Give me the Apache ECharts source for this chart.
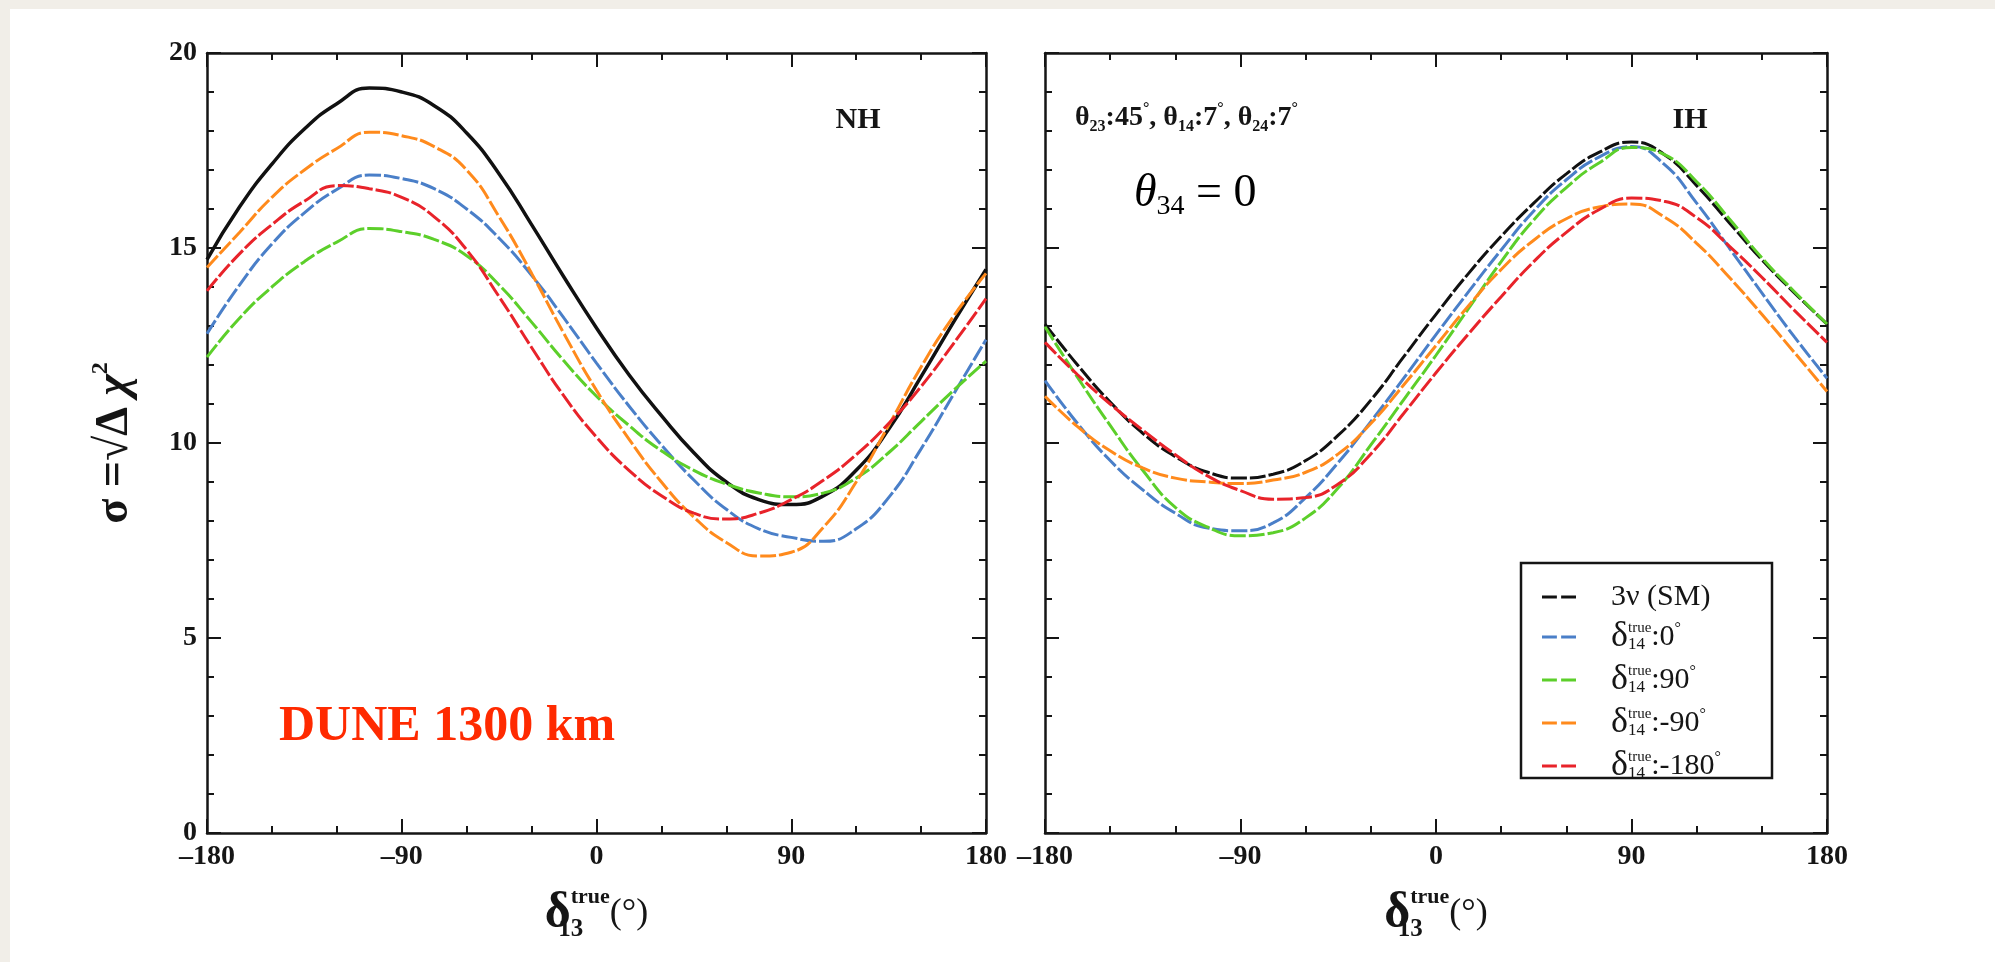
<!DOCTYPE html>
<html>
<head>
<meta charset="utf-8">
<script src="https://cdn.jsdelivr.net/npm/echarts@6/dist/echarts.min.js"></script>
<style>
html, body { margin: 0; padding: 0; background: #f1eee8; }
#main { width: 1995px; height: 962px; }
</style>
</head>
<body>
<div id="main"></div>
<script>
// delta_13 (true) in degrees, same grid for every curve
var deltaCP = [-180, -165, -150, -135, -120, -105, -90, -75, -60, -45, -30, -15, 0,
               15, 30, 45, 60, 75, 90, 105, 120, 135, 150, 165, 180];
var xTicks = [-180, -90, 0, 90, 180];
var yTicks = [0, 5, 10, 15, 20];

// NH panel
var nhSM    = [14.7, 16.05, 17.15, 18.05, 18.7, 19.1, 19.0, 18.65, 17.95, 16.9, 15.6, 14.25, 12.95, 11.75, 10.7, 9.75, 9.0, 8.55, 8.42, 8.65, 9.3, 10.35, 11.7, 13.1, 14.45];
var nhD0    = [12.8, 14.05, 15.1, 15.9, 16.5, 16.87, 16.78, 16.52, 16.0, 15.25, 14.3, 13.2, 12.05, 10.95, 9.95, 9.05, 8.3, 7.8, 7.58, 7.48, 7.8, 8.6, 9.85, 11.25, 12.65];
var nhD90   = [12.2, 13.2, 14.0, 14.65, 15.15, 15.5, 15.42, 15.22, 14.8, 14.05, 13.1, 12.1, 11.2, 10.45, 9.8, 9.3, 8.95, 8.72, 8.62, 8.72, 9.1, 9.75, 10.55, 11.35, 12.1];
var nhDm90  = [14.5, 15.4, 16.3, 17.0, 17.55, 17.97, 17.88, 17.6, 17.0, 15.8, 14.35, 12.8, 11.35, 10.1, 9.0, 8.1, 7.45, 7.1, 7.2, 7.85, 9.0, 10.45, 11.95, 13.25, 14.35];
var nhDm180 = [13.9, 14.85, 15.6, 16.2, 16.6, 16.52, 16.3, 15.8, 14.95, 13.75, 12.45, 11.2, 10.15, 9.3, 8.65, 8.2, 8.05, 8.2, 8.55, 9.05, 9.7, 10.5, 11.45, 12.55, 13.7];

// IH panel
var ihSM    = [13.05, 12.0, 11.05, 10.25, 9.65, 9.25, 9.1, 9.2, 9.55, 10.2, 11.1, 12.2, 13.3, 14.35, 15.3, 16.15, 16.9, 17.45, 17.72, 17.4, 16.6, 15.65, 14.7, 13.85, 13.05];
var ihD0    = [11.6, 10.5, 9.55, 8.8, 8.2, 7.82, 7.75, 7.95, 8.6, 9.5, 10.55, 11.65, 12.78, 13.88, 14.95, 15.95, 16.75, 17.33, 17.6, 17.15, 16.15, 15.0, 13.85, 12.72, 11.66];
var ihD90   = [12.98, 11.68, 10.45, 9.3, 8.35, 7.84, 7.62, 7.7, 8.08, 8.85, 9.95, 11.1, 12.25, 13.45, 14.65, 15.72, 16.55, 17.18, 17.58, 17.4, 16.7, 15.75, 14.75, 13.88, 13.05];
var ihDm90  = [11.2, 10.42, 9.8, 9.36, 9.1, 9.0, 8.96, 9.05, 9.25, 9.72, 10.5, 11.48, 12.5, 13.52, 14.45, 15.2, 15.75, 16.05, 16.13, 15.8, 15.12, 14.25, 13.3, 12.32, 11.32];
var ihDm180 = [12.58, 11.75, 11.0, 10.33, 9.7, 9.15, 8.78, 8.56, 8.6, 8.95, 9.72, 10.75, 11.8, 12.8, 13.75, 14.65, 15.4, 15.98, 16.28, 16.2, 15.78, 15.05, 14.25, 13.4, 12.58];

var names = ['sm', 'd0', 'd90', 'dm90', 'dm180'];
var colors = ['#111111', '#4a7fc8', '#5ccf2a', '#ff8a1c', '#e8232a'];
var legendText = {
    sm: '{n|3ν (SM)}',
    d0: '{d|δ}{sb|14}{sp|true}{n|:0}{g|°}',
    d90: '{d|δ}{sb|14}{sp|true}{n|:90}{g|°}',
    dm90: '{d|δ}{sb|14}{sp|true}{n|:-90}{g|°}',
    dm180: '{d|δ}{sb|14}{sp|true}{n|:-180}{g|°}'
};

var serif = '"Liberation Serif", "DejaVu Serif", serif';
var ink = '#151515';

function pairs(ys) {
    return deltaCP.map(function (x, i) { return [x, ys[i]]; });
}
function tickFmt(v) {
    return v < 0 ? '\u2013' + (-v) : String(v);
}

var myChart = echarts.init(document.getElementById('main'));

function xAx(grid, pos, labels) {
    return {
        type: 'value', gridIndex: grid, position: pos,
        min: xTicks[0], max: xTicks[xTicks.length - 1], interval: xTicks[1] - xTicks[0],
        axisLine: { onZero: false, lineStyle: { color: ink, width: 2.5 } },
        axisTick: { inside: true, length: 14, lineStyle: { color: ink, width: 2 } },
        minorTick: { show: true, splitNumber: 3, length: 7, lineStyle: { color: ink, width: 2 } },
        splitLine: { show: false },
        axisLabel: {
            show: labels, formatter: tickFmt, margin: 10,
            color: ink, fontFamily: serif, fontWeight: 'bold', fontSize: 28
        },
        name: labels ? '{d|δ}{sb|13}{sp|true}{p|(°)}' : '',
        nameLocation: 'middle', nameGap: 53,
        nameTextStyle: {
            rich: {
                d: { fontFamily: serif, fontWeight: 'bold', fontSize: 50, color: ink, lineHeight: 56 },
                sb: { fontFamily: serif, fontWeight: 'bold', fontSize: 25, color: ink, verticalAlign: 'bottom', width: 0, lineHeight: 26 },
                sp: { fontFamily: serif, fontWeight: 'bold', fontSize: 22, color: ink, verticalAlign: 'top', lineHeight: 24 },
                p: { fontFamily: serif, fontSize: 36, color: ink, lineHeight: 56 }
            }
        }
    };
}
function yAx(grid, pos, labels, title) {
    return {
        type: 'value', gridIndex: grid, position: pos,
        min: yTicks[0], max: yTicks[yTicks.length - 1], interval: yTicks[1] - yTicks[0],
        axisLine: { onZero: false, lineStyle: { color: ink, width: 2.5 } },
        axisTick: { inside: true, length: 14, lineStyle: { color: ink, width: 2 } },
        minorTick: { show: true, splitNumber: 5, length: 7, lineStyle: { color: ink, width: 2 } },
        splitLine: { show: false },
        axisLabel: {
            show: labels, margin: 10,
            color: ink, fontFamily: serif, fontWeight: 'bold', fontSize: 28
        },
        name: title ? '{a|σ =√Δ }{c|χ}{e|2}' : '',
        nameLocation: 'middle', nameRotate: 90, nameGap: 66,
        nameTextStyle: {
            rich: {
                a: { fontFamily: serif, fontWeight: 'bold', fontSize: 46, color: ink, lineHeight: 52 },
                c: { fontFamily: serif, fontWeight: 'bold', fontStyle: 'italic', fontSize: 46, color: ink, lineHeight: 52 },
                e: { fontFamily: serif, fontWeight: 'bold', fontSize: 24, color: ink, verticalAlign: 'top', lineHeight: 24 }
            }
        }
    };
}

var nhData = [nhSM, nhD0, nhD90, nhDm90, nhDm180];
var ihData = [ihSM, ihD0, ihD90, ihDm90, ihDm180];
var series = [];
ihData.forEach(function (ys, i) {
    series.push({
        name: names[i], type: 'line', xAxisIndex: 2, yAxisIndex: 2,
        data: pairs(ys), smooth: 0.5, symbol: 'none',
        lineStyle: { color: colors[i], width: 3, type: [16, 3] },
        itemStyle: { color: colors[i] }
    });
});
nhData.forEach(function (ys, i) {
    series.push({
        name: names[i], type: 'line', xAxisIndex: 0, yAxisIndex: 0,
        data: pairs(ys), smooth: 0.5, symbol: 'none',
        lineStyle: { color: colors[i], width: i === 0 ? 3.5 : 3, type: i === 0 ? 'solid' : [16, 3] },
        itemStyle: { color: colors[i] }
    });
});

var option = {
    backgroundColor: '#f1eee8',
    animation: false,
    grid: [
        { left: 207, top: 53, width: 779, height: 780 },
        { left: 1045, top: 53, width: 782, height: 780 }
    ],
    xAxis: [xAx(0, 'bottom', true), xAx(0, 'top', false), xAx(1, 'bottom', true), xAx(1, 'top', false)],
    yAxis: [yAx(0, 'left', true, true), yAx(0, 'right', false, false), yAx(1, 'left', false, false), yAx(1, 'right', false, false)],
    legend: {
        orient: 'vertical', left: 1537, top: 577,
        itemWidth: 34, itemHeight: 14, itemGap: 7,
        icon: 'path://M0,0H14V3H0Z M18,0H32V3H18Z',
        data: names,
        formatter: function (name) { return legendText[name]; },
        textStyle: {
            padding: [0, 0, 0, 30],
            rich: {
                n: { fontFamily: serif, fontSize: 30, color: ink, lineHeight: 32 },
                d: { fontFamily: serif, fontSize: 36, color: ink, lineHeight: 32 },
                sb: { fontFamily: serif, fontSize: 17, color: ink, verticalAlign: 'bottom', width: 0, lineHeight: 17 },
                sp: { fontFamily: serif, fontSize: 15, color: ink, verticalAlign: 'top', lineHeight: 15 },
                g: { fontFamily: serif, fontSize: 16, color: ink, verticalAlign: 'top', lineHeight: 16 }
            }
        }
    },
    graphic: [
        { type: 'rect', z: -1, shape: { x: 10, y: 9, width: 1985, height: 953 }, style: { fill: '#ffffff' } },
        { type: 'rect', z: 3, shape: { x: 1521, y: 563, width: 251, height: 215 }, style: { fill: '#ffffff', stroke: ink, lineWidth: 2.5 } },
        { type: 'text', z: 5, x: 858, y: 120, style: { text: 'NH', fill: ink, font: 'bold 30px ' + serif, textAlign: 'center', textVerticalAlign: 'middle', align: 'center', verticalAlign: 'middle' } },
        { type: 'text', z: 5, x: 1690, y: 120, style: { text: 'IH', fill: ink, font: 'bold 30px ' + serif, textAlign: 'center', textVerticalAlign: 'middle', align: 'center', verticalAlign: 'middle' } },
        {
            type: 'text', z: 5, x: 1075, y: 118,
            style: {
                text: '{t|θ}{s|23}{n|:45}{g|°}{n|, }{t|θ}{s|14}{n|:7}{g|°}{n|, }{t|θ}{s|24}{n|:7}{g|°}',
                textVerticalAlign: 'middle', verticalAlign: 'middle',
                rich: {
                    t: { font: 'bold 28px ' + serif, fill: ink, lineHeight: 34 },
                    n: { font: 'bold 28px ' + serif, fill: ink, lineHeight: 34 },
                    s: { font: 'bold 16px ' + serif, fill: ink, verticalAlign: 'bottom', lineHeight: 16 },
                    g: { font: 'bold 16px ' + serif, fill: ink, verticalAlign: 'top', lineHeight: 16 }
                }
            }
        },
        {
            type: 'text', z: 5, x: 1134, y: 194,
            style: {
                text: '{t|θ}{s|34}{n| = 0}',
                textVerticalAlign: 'middle', verticalAlign: 'middle',
                rich: {
                    t: { font: 'italic 46px ' + serif, fill: '#000', lineHeight: 54 },
                    s: { font: '28px ' + serif, fill: '#000', verticalAlign: 'bottom', lineHeight: 28 },
                    n: { font: '46px ' + serif, fill: '#000', lineHeight: 54 }
                }
            }
        },
        { type: 'text', z: 5, x: 279, y: 727, style: { text: 'DUNE 1300 km', fill: '#ff2a00', font: 'bold 50px ' + serif, textVerticalAlign: 'middle', verticalAlign: 'middle' } }
    ],
    series: series
};
myChart.setOption(option);
</script>
</body>
</html>
